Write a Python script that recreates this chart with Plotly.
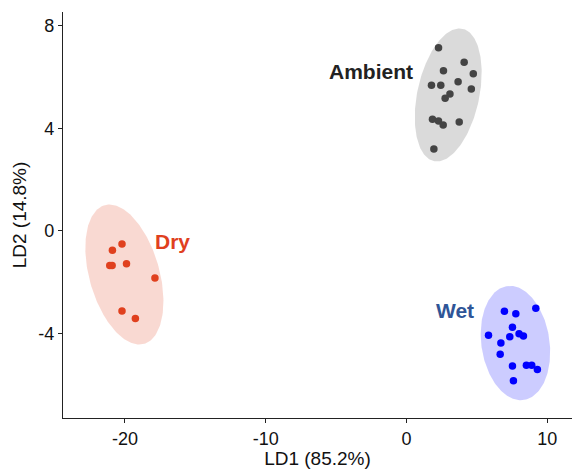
import numpy as np
import plotly.graph_objects as go

groups = ["Ambient", "Dry", "Wet"]

ambient_ld1 = [2.27, 4.09, 2.62, 4.74, 1.77, 2.43, 3.66, 4.60, 3.08, 2.74, 1.84, 2.27, 2.60, 3.74, 1.94]
ambient_ld2 = [7.14, 6.57, 6.24, 6.12, 5.68, 5.68, 5.81, 5.53, 5.33, 5.17, 4.35, 4.28, 4.13, 4.24, 3.19]

dry_ld1 = [-20.21, -20.89, -21.08, -20.91, -19.89, -17.87, -20.21, -19.26]
dry_ld2 = [-0.51, -0.75, -1.35, -1.35, -1.28, -1.83, -3.12, -3.41]

wet_ld1 = [9.18, 6.95, 7.76, 7.52, 5.82, 7.33, 7.99, 8.30, 6.70, 6.65, 7.52, 8.51, 8.89, 9.29, 7.59]
wet_ld2 = [-3.01, -3.13, -3.23, -3.75, -4.07, -4.12, -4.01, -4.09, -4.37, -4.81, -5.26, -5.23, -5.23, -5.40, -5.84]

x_ticks = [-20, -10, 0, 10]
x_tick_labels = ["-20", "-10", "0", "10"]
y_ticks = [-4, 0, 4, 8]
y_tick_labels = ["-4", "0", "4", "8"]

point_colors = {"Ambient": "#444444", "Dry": "#E0401E", "Wet": "#0000FF"}
fill_colors = {"Ambient": "rgba(68,68,68,0.2)", "Dry": "rgba(224,64,30,0.2)", "Wet": "rgba(0,0,255,0.2)"}
label_colors = {"Ambient": "#222222", "Dry": "#E0401E", "Wet": "#2F5597"}
label_pos = {"Ambient": (-2.5, 6.23), "Dry": (-16.6, -0.4), "Wet": (3.45, -3.1)}
ellipse_radius = {"Ambient": 2.42, "Dry": 2.6, "Wet": 2.5}

data = {
    "Ambient": (ambient_ld1, ambient_ld2),
    "Dry": (dry_ld1, dry_ld2),
    "Wet": (wet_ld1, wet_ld2),
}

def ellipse(x, y, r, n=200):
    x = np.asarray(x); y = np.asarray(y)
    c = np.cov(np.vstack([x, y]))
    vals, vecs = np.linalg.eigh(c)
    t = np.linspace(0, 2 * np.pi, n)
    circ = np.vstack([np.cos(t), np.sin(t)])
    pts = vecs @ (np.sqrt(vals)[:, None] * circ) * r
    return pts[0] + x.mean(), pts[1] + y.mean()

FONT = "Liberation Sans, Arial"

fig = go.Figure()
for g in groups:
    x, y = data[g]
    ex, ey = ellipse(x, y, ellipse_radius[g])
    fig.add_trace(go.Scatter(x=ex, y=ey, mode="lines", fill="toself",
                             fillcolor=fill_colors[g], line=dict(width=0),
                             hoverinfo="skip", showlegend=False))
for g in groups:
    x, y = data[g]
    fig.add_trace(go.Scatter(x=x, y=y, mode="markers", name=g,
                             marker=dict(color=point_colors[g], size=7.5),
                             showlegend=False))
for g in groups:
    lx, ly = label_pos[g]
    fig.add_annotation(x=lx, y=ly, text=f"<b>{g}</b>", showarrow=False,
                       font=dict(family=FONT, size=21, color=label_colors[g]))

axis_common = dict(showgrid=False, zeroline=False, showline=True, linecolor="#222222",
                   linewidth=1.3, ticks="outside", ticklen=4, tickcolor="#222222",
                   tickwidth=1.2,
                   tickfont=dict(family=FONT, size=18, color="#111111"),
                   title_font=dict(family=FONT, size=19, color="#111111"))

fig.update_xaxes(range=[-24.4, 11.75], tickvals=x_ticks, ticktext=x_tick_labels,
                 title_text="LD1 (85.2%)", title_standoff=4, **axis_common)
fig.update_yaxes(range=[-7.29, 8.53], tickvals=y_ticks, ticktext=y_tick_labels,
                 title_text="LD2 (14.8%)", title_standoff=6, **axis_common)

fig.update_layout(width=574, height=469, plot_bgcolor="white", paper_bgcolor="white",
                  margin=dict(l=63, r=2, t=12, b=51))

fig.write_html("out.html")
